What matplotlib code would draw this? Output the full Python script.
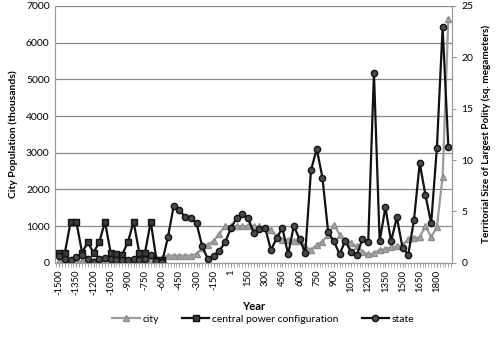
import matplotlib
matplotlib.use("Agg")
import matplotlib.pyplot as plt
from matplotlib.ticker import MultipleLocator

plt.rcParams['font.family'] = ['Lato', 'DejaVu Sans']

# 50-year steps, "1" stands in for year 0
years = list(range(-1500, 0, 50)) + [1] + list(range(50, 1901, 50))

# city population (thousands), left axis
city = [60, 50, 40, 40, 50, 60, 50, 60, 50, 60,
        60, 50, 60, 70, 60, 80, 100, 120, 140, 200,
        200, 200, 200, 200, 250, 400, 500, 600, 800, 1000,
        1000,
        1000, 1000, 1000, 1000, 1000, 950, 900, 720, 630, 630,
        600, 600, 450, 350, 490, 580, 770, 1040, 770, 630,
        540, 450, 310, 230, 265, 356, 375, 430, 450, 480,
        650, 680, 700, 1000, 700, 980, 2350, 6650]

# central power configuration, right axis (-1500 .. -600)
cpc_years = list(range(-1500, -550, 50))
cpc = [1.0, 1.0, 4.0, 4.0, 1.0, 2.0, 1.0, 2.0, 4.0, 1.0,
       0.9, 0.8, 2.0, 4.0, 1.0, 1.0, 4.0, 0.3, 0.25]

# state territorial size (sq. megameters), right axis
state = [0.7, 0.4, 0.3, 0.6, 0.8, 0.4, 0.1, 0.4, 0.5, 0.4,
         0.3, 0.3, 0.3, 0.4, 0.3, 0.4, 0.8, 0.2, 0.1, 2.5,
         5.5, 5.1, 4.5, 4.35, 3.85, 1.6, 0.35, 0.7, 1.2, 2.0,
         3.4,
         4.35, 4.75, 4.35, 2.95, 3.3, 3.4, 1.25, 2.4, 3.4, 0.85,
         3.6, 2.3, 1.0, 9.0, 11.1, 8.3, 3.0, 2.1, 0.85, 2.15,
         1.05, 0.75, 2.35, 2.05, 18.5, 2.1, 5.4, 2.1, 4.45, 1.45,
         0.8, 4.2, 9.7, 6.6, 3.85, 11.2, 22.9, 11.3]

tick_years = list(range(-1500, 0, 150)) + [1] + list(range(150, 1801, 150))

fig = plt.figure(figsize=(4.97, 3.45), dpi=100)
ax = fig.add_axes([0.111, 0.238, 0.798, 0.745])
ax2 = ax.twinx()

ax.plot(years, city, color='#9c9c9c', lw=1.6, marker='^', ms=4,
        mfc='#a8a8a8', mec='#8c8c8c', label='city', zorder=2)
l2, = ax2.plot(cpc_years, cpc, color='#111111', lw=1.6, marker='s', ms=4.5,
               mfc='#3a3a3a', mec='#111111', label='central power configuration')
l3, = ax2.plot(years, state, color='#111111', lw=1.6, marker='o', ms=4.5,
               mfc='#4a4a4a', mec='#111111', label='state')

ax.set_xlim(-1535, 1930)
ax.set_ylim(0, 7000)
ax2.set_ylim(0, 25)
ax.set_yticks(range(0, 7001, 1000))
ax2.set_yticks(range(0, 26, 5))
ax.set_xticks(tick_years)
ax.set_xticklabels([str(y) for y in tick_years], rotation=90)
ax.xaxis.set_minor_locator(MultipleLocator(25))

ax.grid(axis='y', color='#8a8a8a', lw=0.9)
ax.set_axisbelow(True)

for a in (ax, ax2):
    a.spines['top'].set_visible(False)
    for s in ('left', 'right', 'bottom'):
        a.spines[s].set_color('#9a9a9a')
ax.tick_params(axis='y', length=0, labelsize=7.5, pad=4)
ax2.tick_params(axis='y', length=3, color='#9a9a9a', labelsize=7.5, pad=4)
ax.tick_params(axis='x', which='both', length=3, color='#9a9a9a', labelsize=6.8, pad=2)

ax.set_ylabel('City Population (thousands)', fontsize=7.5, fontweight='bold', labelpad=6)
ax2.set_ylabel('Territorial Size of Largest Polity (sq. megameters)', fontsize=7.2,
               fontweight='bold', labelpad=6, rotation=90)
ax.set_xlabel('Year', fontsize=8, fontweight='bold', labelpad=4)

h1, lb1 = ax.get_legend_handles_labels()
fig.legend(h1 + [l2, l3], lb1 + [l2.get_label(), l3.get_label()],
           loc='center', bbox_to_anchor=(0.53, 0.075), ncol=3, frameon=False,
           fontsize=7.5, handlelength=2.6, columnspacing=2.2, handletextpad=0.3)

fig.savefig('out.png', dpi=100)
